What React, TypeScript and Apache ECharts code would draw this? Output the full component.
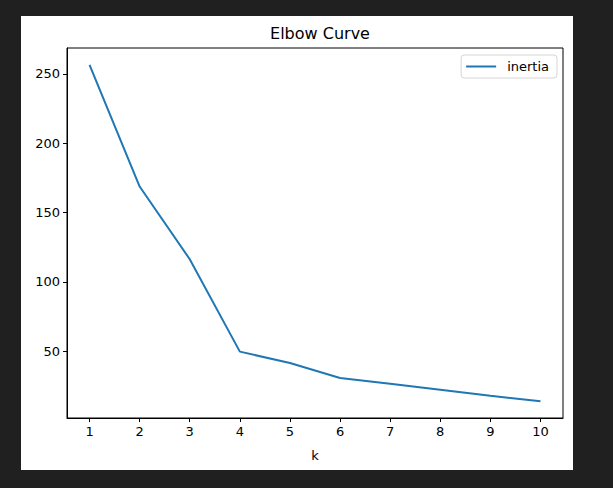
import React, { useRef, useEffect } from 'react';
import * as echarts from 'echarts';

const kValues = [1, 2, 3, 4, 5, 6, 7, 8, 9, 10];
const inertia = [256.5, 168.8, 116.4, 49.8, 41.6, 30.8, 26.6, 22.3, 18.0, 14.1];
const xTicks = [1, 2, 3, 4, 5, 6, 7, 8, 9, 10];
const yTicks = [50, 100, 150, 200, 250];

const FONT = 'DejaVu Sans';

const App: React.FC = () => {
  const chartRef = useRef<HTMLDivElement>(null);

  useEffect(() => {
    const chart = echarts.init(chartRef.current, null, { renderer: 'svg' });

    const lo = Math.min(...inertia);
    const hi = Math.max(...inertia);
    const pad = (hi - lo) * 0.05;

    chart.setOption({
      animation: false,
      backgroundColor: '#ffffff',
      textStyle: { fontFamily: FONT },
      title: {
        text: 'Elbow Curve',
        left: 294,
        top: 4,
        textAlign: 'center',
        textStyle: { fontFamily: FONT, fontSize: 16, fontWeight: 'normal', color: '#000' }
      },
      legend: {
        right: 16,
        top: 39,
        icon: 'path://M0,0 L30,0 L30,2 L0,2 Z',
        itemWidth: 30,
        itemHeight: 2,
        itemGap: 10,
        padding: [5, 8, 5, 5],
        borderColor: '#d6d6d6',
        borderWidth: 1,
        borderRadius: 3,
        textStyle: { fontFamily: FONT, fontSize: 13, color: '#000', padding: [0, 0, 0, 6] }
      },
      grid: {
        left: 46,
        top: 32,
        right: 10,
        bottom: 52,
        show: true,
        borderColor: '#000',
        borderWidth: 1
      },
      xAxis: {
        type: 'value',
        min: 0.55,
        max: 10.45,
        name: 'k',
        nameLocation: 'middle',
        nameGap: 31,
        nameTextStyle: { fontFamily: FONT, fontSize: 13, color: '#000' },
        splitLine: { show: false },
        axisLine: { show: true, lineStyle: { color: '#000', width: 1 } },
        axisTick: { show: true, inside: false, length: 4, customValues: xTicks, lineStyle: { color: '#000' } },
        axisLabel: { customValues: xTicks, margin: 7, fontFamily: FONT, fontSize: 13, color: '#000' }
      },
      yAxis: {
        type: 'value',
        min: lo - pad,
        max: hi + pad,
        splitLine: { show: false },
        axisLine: { show: true, lineStyle: { color: '#000', width: 1 } },
        axisTick: { show: true, inside: false, length: 4, customValues: yTicks, lineStyle: { color: '#000' } },
        axisLabel: { customValues: yTicks, margin: 7, fontFamily: FONT, fontSize: 13, color: '#000' }
      },
      series: [
        {
          name: 'inertia',
          type: 'line',
          symbol: 'none',
          data: kValues.map((k, i) => [k, inertia[i]]),
          lineStyle: { color: '#1f77b4', width: 2 },
          itemStyle: { color: '#1f77b4' }
        }
      ]
    });

    return () => {
      chart.dispose();
    };
  }, []);

  return (
    <div
      style={{
        position: 'fixed',
        left: 0,
        top: 0,
        width: '613px',
        height: '488px',
        background: '#202020'
      }}
    >
      <div
        ref={chartRef}
        style={{
          position: 'absolute',
          left: '21px',
          top: '16px',
          width: '552px',
          height: '454px'
        }}
      />
    </div>
  );
};

export default App;
